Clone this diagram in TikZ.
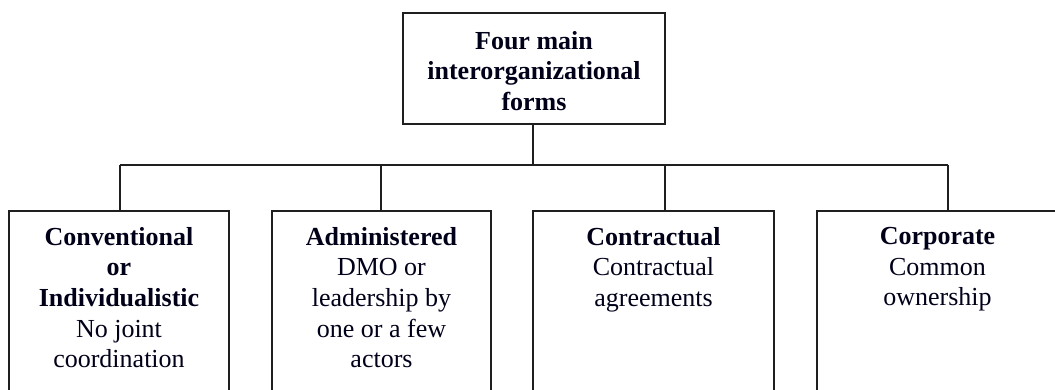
\documentclass[tikz,border=0pt]{standalone}
\usepackage{fontspec}
\setmainfont{Liberation Serif}
\begin{document}
\begin{tikzpicture}[x=0.75pt,y=-0.75pt,
  boxline/.style={draw=black!88,line width=1.6pt},
  conn/.style={draw=black!88,line width=1.6pt},
  lbl/.style={inner sep=0pt,align=center,text=black!90!blue,font=\fontsize{19.5}{23}\selectfont,anchor=north}]
\useasboundingbox (0,0) rectangle (1055,389);
\clip (0,0) rectangle (1055,389);
% top box
\node[boxline,minimum width=262*0.75pt,minimum height=111*0.75pt,inner sep=0pt] (top) at (534,68.5) {};
\node[lbl] (toptext) at (534,31) {\textbf{Four main}\\\textbf{interorganizational}\\\textbf{forms}};
% bottom boxes (running off the page)
\node[boxline,minimum width=220*0.75pt,minimum height=260*0.75pt,inner sep=0pt,anchor=north] (b1) at (119,210) {};
\node[boxline,minimum width=219*0.75pt,minimum height=260*0.75pt,inner sep=0pt,anchor=north] (b2) at (381.5,210) {};
\node[boxline,minimum width=241*0.75pt,minimum height=260*0.75pt,inner sep=0pt,anchor=north] (b3) at (653.5,210) {};
\node[boxline,minimum width=241*0.75pt,minimum height=260*0.75pt,inner sep=0pt,anchor=north] (b4) at (937.5,210) {};
\node[lbl] (t1) at (119,227) {\textbf{Conventional}\\\textbf{or}\\\textbf{Individualistic}\\No joint\\coordination};
\node[lbl] (t2) at (381.5,227) {\textbf{Administered}\\DMO or\\leadership by\\one or a few\\actors};
\node[lbl] (t3) at (653.5,227) {\textbf{Contractual}\\Contractual\\agreements};
\node[lbl] (t4) at (937.5,227) {\textbf{Corporate}\\Common\\ownership};
% connectors
\coordinate (bus) at (533,165);
\coordinate (busL) at (120,165);
\coordinate (busR) at (948,165);
\draw[conn] (top.south -| bus) -- (bus);
\draw[conn] (busL) -- (busR);
\draw[conn] (busL) -- (busL |- b1.north);
\draw[conn] (381,165) -- (381,210);
\draw[conn] (665,165) -- (665,210);
\draw[conn] (busR) -- (busR |- b4.north);
\end{tikzpicture}
\end{document}
